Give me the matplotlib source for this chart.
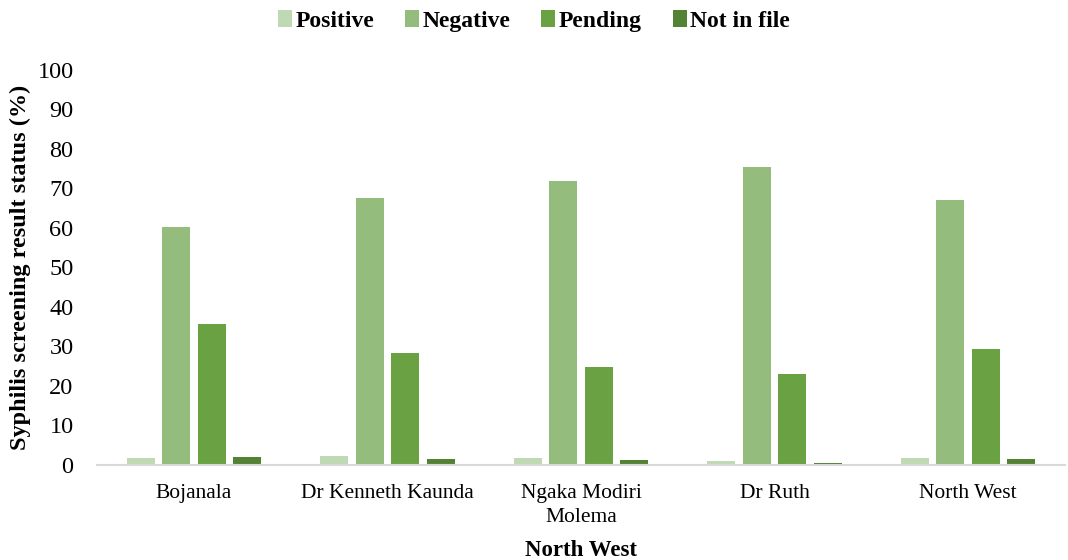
import numpy as np
import matplotlib
matplotlib.use('Agg')
import matplotlib.pyplot as plt

plt.rcParams['font.family'] = ['Liberation Serif', 'DejaVu Serif']

# ── data ──────────────────────────────────────────────
districts = ['Bojanala', 'Dr Kenneth Kaunda', 'Ngaka Modiri\nMolema', 'Dr Ruth', 'North West']
series = ['Positive', 'Negative', 'Pending', 'Not in file']
positive = [1.8, 2.3, 1.6, 1.0, 1.8]
negative = [60.3, 67.6, 72.0, 75.5, 67.1]
pending = [35.7, 28.3, 24.8, 23.0, 29.4]
not_in_file = [2.0, 1.5, 1.2, 0.5, 1.5]

COLORS = ['#C0D9B5', '#93BC7D', '#69A143', '#548235']

fig = plt.figure(figsize=(10.68, 5.6), dpi=100)
ax = fig.add_axes([0.091, 0.170, 0.906, 0.705])

x = np.arange(len(districts))
step = 0.183
w = 0.145
for i, (name, vals) in enumerate(zip(series, [positive, negative, pending, not_in_file])):
    ax.bar(x + (i - 1.5) * step, vals, w, color=COLORS[i], label=name)

ax.set_xlim(-0.5, len(districts) - 0.5)
ax.set_ylim(0, 100)
ax.set_yticks(range(0, 101, 10))
ax.set_xticks(x)
ax.set_xticklabels(districts, fontsize=15.5, linespacing=1.35)
ax.tick_params(axis='y', labelsize=17.5, length=0, pad=17)
ax.tick_params(axis='x', length=0, pad=14)

for s in ['top', 'right', 'left']:
    ax.spines[s].set_visible(False)
ax.spines['bottom'].set_color('#D9D9D9')
ax.spines['bottom'].set_linewidth(1.5)

ax.set_ylabel('Syphilis screening result status (%)', fontsize=17.5, fontweight='bold', labelpad=5)
ax.set_xlabel('North West', fontsize=16.5, fontweight='bold', labelpad=9)

fig.legend(loc='upper center', bbox_to_anchor=(0.5, 1.02), ncol=4, frameon=False,
           prop={'size': 17, 'weight': 'bold'}, handlelength=0.6, handleheight=0.7,
           handletextpad=0.15, columnspacing=1.3)

fig.savefig('out.png', dpi=100)
